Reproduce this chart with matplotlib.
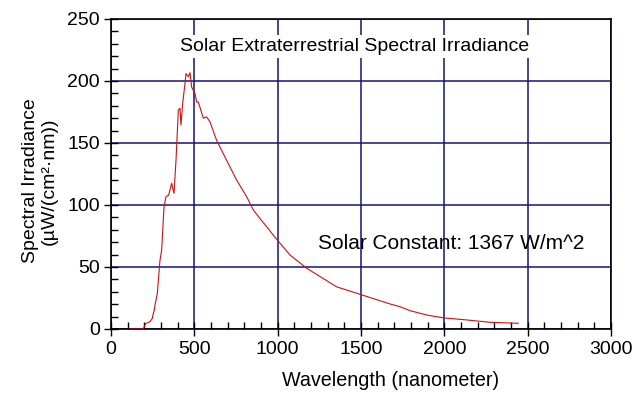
import matplotlib
matplotlib.use("Agg")
import matplotlib.pyplot as plt
from matplotlib.ticker import MultipleLocator

# wavelength (nm) and spectral irradiance (uW/(cm^2 nm))
wavelength = [114, 150, 194, 204, 210, 220, 234, 248, 254, 260, 264, 270, 278,
              294, 304, 318, 330, 346, 364, 378, 390, 404, 414, 420, 430, 444,
              450, 464, 474, 484, 504, 514, 524, 554, 574, 594, 634, 694, 754,
              814, 854, 894, 934, 990, 1074, 1174, 1354, 1494, 1674, 1734, 1794,
              1894, 1994, 2134, 2274, 2444]
irradiance = [0, 0, 0, 3.2, 4.6, 5.0, 5.9, 8.6, 12.7, 15.3, 19.4, 23.4, 28.8,
              55.6, 63.7, 98.6, 106.7, 108, 117.5, 109.4, 136, 176.6, 178, 164.5,
              182, 198, 206, 203.5, 206.7, 195, 190, 183, 183, 170, 171, 167, 152,
              136, 120, 106.7, 96, 89, 82.5, 73, 59.7, 49, 34, 28, 20.2, 18, 14.8,
              11.3, 9.0, 7.3, 5.4, 4.6]

font = "Liberation Sans"
navy = "#14147a"

fig = plt.figure(figsize=(6.42, 3.95), dpi=100)
ax = fig.add_axes([0.1729, 0.1671, 0.7788, 0.7848])

ax.plot(wavelength, irradiance, color="#cc1111", lw=0.8, zorder=3)

ax.set_xlim(0, 3000)
ax.set_ylim(0, 250)
ax.xaxis.set_major_locator(MultipleLocator(500))
ax.xaxis.set_minor_locator(MultipleLocator(100))
ax.yaxis.set_major_locator(MultipleLocator(50))
ax.yaxis.set_minor_locator(MultipleLocator(10))
ax.tick_params(which="major", direction="inout", length=10, width=1, labelsize=14)
ax.tick_params(axis="x", which="major", pad=4)
ax.tick_params(axis="y", which="major", pad=3)
ax.tick_params(which="minor", direction="in", length=5, width=1)
for lbl in ax.get_xticklabels() + ax.get_yticklabels():
    lbl.set_fontfamily(font)

ax.grid(True, which="major", color=navy, lw=1.1)
for s in ax.spines.values():
    s.set_linewidth(1.2)

# axis titles sit a bit off-centre in the original
fig.text(391 / 642, 1 - 380 / 395, "Wavelength (nanometer)", fontsize=14.2,
         family=font, ha="center", va="center")
fig.text(40 / 642, 1 - 181 / 395, "Spectral Irradiance\n(\u00b5W/(cm\u00b2\u00b7nm))",
         fontsize=14, family=font, ha="center", va="center", rotation=90,
         multialignment="center", linespacing=1.1)

ax.text(1464, 228, "Solar Extraterrestrial Spectral Irradiance", fontsize=14,
        family=font, ha="center", va="center", zorder=4,
        bbox=dict(facecolor="white", edgecolor="none", pad=2))
ax.text(1242, 69, "Solar Constant: 1367 W/m^2", fontsize=15, family=font,
        ha="left", va="center", zorder=4)

fig.savefig("out.png", dpi=100)
